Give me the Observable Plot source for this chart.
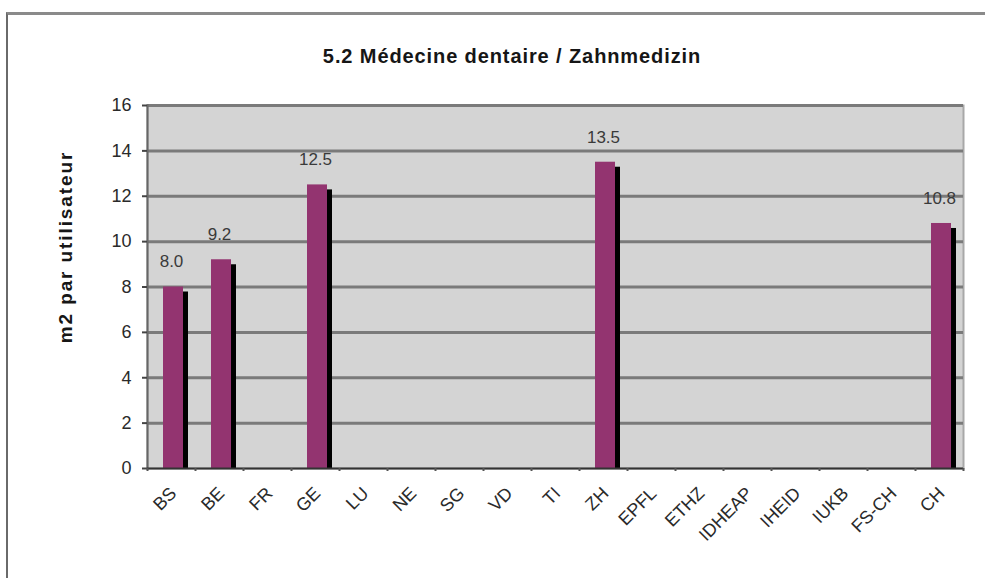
<!DOCTYPE html>
<html>
<head>
<meta charset="utf-8">
<script src="https://cdn.jsdelivr.net/npm/d3@7"></script>
<script src="https://cdn.jsdelivr.net/npm/@observablehq/plot@0.6"></script>
<style>
  html, body { margin: 0; padding: 0; background: #fff; }
  #wrap { position: relative; width: 985px; height: 578px; overflow: hidden; font-family: "Liberation Sans", Arial, sans-serif; }
  #border { position: absolute; left: 6px; top: 12px; right: -10px; bottom: -10px; border-top: 3px solid #8a8a8a; border-left: 2px solid #6a6a6a; }
  #title { position: absolute; left: 12px; width: 1000px; top: 46px; line-height: 20px; text-align: center; font-weight: bold; font-size: 20px; letter-spacing: 0.9px; color: #161616; white-space: nowrap; }
  #ylabel { position: absolute; left: 65px; top: 247px; transform: translate(-50%, -50%) rotate(-90deg); font-weight: bold; font-size: 19px; letter-spacing: 1.9px; color: #161616; white-space: nowrap; line-height: 19px; }
  #chart { position: absolute; left: 0; top: 0; }
</style>
</head>
<body>
<div id="wrap">
  <div id="border"></div>
  <div id="chart"></div>
  <div id="title"></div>
  <div id="ylabel"></div>
</div>
<script>
const title = "5.2 Médecine dentaire / Zahnmedizin";
const yLabel = "m2 par utilisateur";
const categories = ["BS","BE","FR","GE","LU","NE","SG","VD","TI","ZH","EPFL","ETHZ","IDHEAP","IHEID","IUKB","FS-CH","CH"];
const values = [8.0, 9.2, null, 12.5, null, null, null, null, null, 13.5, null, null, null, null, null, null, 10.8];
const valueLabels = ["8.0","9.2","","12.5","","","","","","13.5","","","","","","","10.8"];
const yTicks = [0,2,4,6,8,10,12,14,16];

document.getElementById("title").textContent = title;
document.getElementById("ylabel").textContent = yLabel;

const data = categories.map((c, i) => ({cat: c, value: values[i], label: valueLabels[i]}));
const bars = data.filter(d => d.value != null);

const W = 985, H = 578, mL = 147, mR = 22, mT = 105, mB = 110;
const half = (W - mL - mR) / categories.length / 2;

const chart = Plot.plot({
  width: W, height: H,
  marginLeft: mL, marginRight: mR, marginTop: mT, marginBottom: mB,
  style: {fontFamily: "'Liberation Sans', Arial, sans-serif", fontSize: "18px", color: "#222", background: "transparent", overflow: "visible"},
  x: {domain: categories, padding: 0, label: null, axis: null},
  y: {domain: [0, 16], label: null, axis: null},
  marks: [
    Plot.frame({fill: "#d4d4d4", stroke: "#a8a8a8", strokeWidth: 2}),
    Plot.gridY(yTicks.filter(v => v > 0), {stroke: "#7a7a7a", strokeWidth: 3, strokeOpacity: 1}),
    Plot.frame({anchor: "left", stroke: "#666", strokeWidth: 2}),
    Plot.barY(bars, {x: "cat", y: "value", fill: "#000", insetLeft: half - 3, insetRight: half - 17, insetTop: 5}),
    Plot.barY(bars, {x: "cat", y: "value", fill: "#933470", insetLeft: half - 8, insetRight: half - 12}),
    Plot.ruleY([0], {stroke: "#333", strokeWidth: 2}),
    Plot.text(bars, {x: "cat", y: "value", text: "label", dy: -25, fill: "#3a3a3a", fontSize: 17}),
    Plot.axisY({ticks: yTicks, tickSize: 5, tickPadding: 11, stroke: "#444", strokeWidth: 2, fontSize: 18, fill: "#2a2a2a", label: null}),
    Plot.axisX({ticks: categories, tickSize: 3, strokeWidth: 2, stroke: "#555", dx: -half, tickFormat: () => "", label: null}),
    Plot.axisX({ticks: ["CH"], tickSize: 3, strokeWidth: 2, stroke: "#555", dx: half, tickFormat: () => "", label: null}),
    Plot.text(categories, {x: d => d, y: () => 0, rotate: -45, textAnchor: "end", lineAnchor: "middle", dx: 2, dy: 22, fontSize: 18, fill: "#2a2a2a"})
  ]
});
document.getElementById("chart").appendChild(chart);
</script>
</body>
</html>
